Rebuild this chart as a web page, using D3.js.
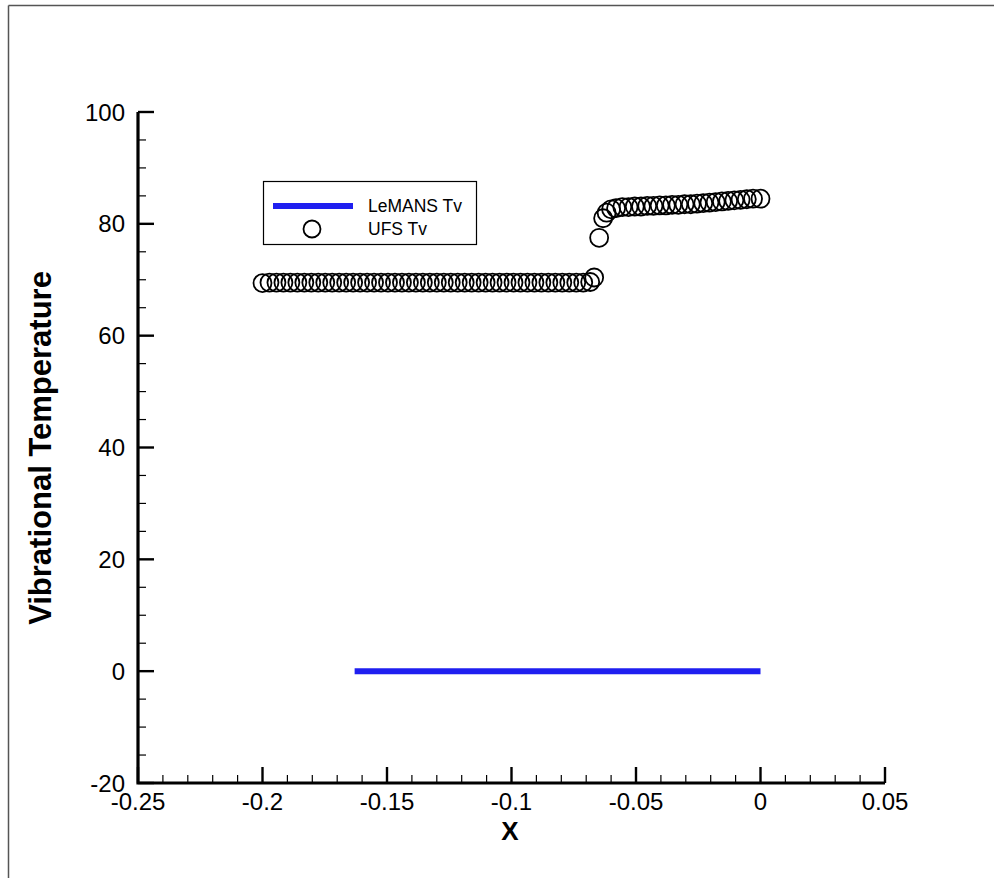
<!DOCTYPE html>
<html>
<head>
<meta charset="utf-8">
<script src="https://cdn.jsdelivr.net/npm/d3@7"></script>
<style>
  html, body { margin: 0; padding: 0; background: #fff; }
  svg { display: block; }
  text { font-family: "Liberation Sans", Arial, Helvetica, sans-serif; }
</style>
</head>
<body>
<svg id="chart" width="994" height="878"></svg>
<script>
// LeMANS vibrational temperature (solid line)
const lemansX = [-0.163, 0.0];
const lemansTv = [0, 0];

// UFS vibrational temperature (open circles)
const ufsX = [
  -0.2000, -0.1972, -0.1944, -0.1916, -0.1888, -0.1860, -0.1832, -0.1804,
  -0.1776, -0.1748, -0.1720, -0.1692, -0.1664, -0.1636, -0.1608, -0.1580,
  -0.1552, -0.1524, -0.1496, -0.1468, -0.1440, -0.1412, -0.1384, -0.1356,
  -0.1328, -0.1300, -0.1272, -0.1244, -0.1216, -0.1188, -0.1160, -0.1132,
  -0.1104, -0.1076, -0.1048, -0.1020, -0.0992, -0.0964, -0.0936, -0.0908,
  -0.0880, -0.0852, -0.0824, -0.0796, -0.0768, -0.0740, -0.0712, -0.0684,
  -0.0668, -0.0648, -0.0632, -0.0618, -0.0600, -0.0580,
  -0.0555, -0.0530, -0.0505, -0.0480, -0.0455, -0.0430, -0.0405, -0.0380,
  -0.0355, -0.0330, -0.0305, -0.0280, -0.0255, -0.0230, -0.0205, -0.0180,
  -0.0155, -0.0130, -0.0105, -0.0080, -0.0055, -0.0030, 0.0000
];
const ufsTv = [
  69.4, 69.5, 69.5, 69.5, 69.5, 69.5, 69.5, 69.5,
  69.5, 69.5, 69.5, 69.5, 69.5, 69.5, 69.5, 69.5,
  69.5, 69.5, 69.5, 69.5, 69.5, 69.5, 69.5, 69.5,
  69.5, 69.5, 69.5, 69.5, 69.5, 69.5, 69.5, 69.5,
  69.5, 69.5, 69.5, 69.5, 69.5, 69.5, 69.5, 69.5,
  69.5, 69.5, 69.5, 69.5, 69.5, 69.5, 69.5, 69.6,
  70.4, 77.5, 81.0, 82.0, 82.6, 82.8,
  83.0, 83.0, 83.1, 83.1, 83.2, 83.2, 83.3, 83.3,
  83.4, 83.4, 83.5, 83.5, 83.6, 83.7, 83.8, 83.9,
  84.0, 84.1, 84.2, 84.3, 84.4, 84.5, 84.5
];

const xTicks = [-0.25, -0.2, -0.15, -0.1, -0.05, 0, 0.05];
const xTickLabels = ["-0.25", "-0.2", "-0.15", "-0.1", "-0.05", "0", "0.05"];
const yTicks = [-20, 0, 20, 40, 60, 80, 100];
const yTickLabels = ["-20", "0", "20", "40", "60", "80", "100"];
const legendLabels = ["LeMANS Tv", "UFS Tv"];

const svg = d3.select("#chart");

// frame around the plot window
svg.append("line").attr("x1", 8.5).attr("y1", 5.5).attr("x2", 994).attr("y2", 5.5)
  .attr("stroke", "#555").attr("stroke-width", 1.5);
svg.append("line").attr("x1", 8.5).attr("y1", 5.5).attr("x2", 8.5).attr("y2", 878)
  .attr("stroke", "#555").attr("stroke-width", 1.5);

const x = d3.scaleLinear().domain([-0.25, 0.05]).range([138, 885]);
const y = d3.scaleLinear().domain([-20, 100]).range([783, 112]);

// minor ticks
const xMinor = d3.range(-0.25, 0.0501, 0.01).filter(v => Math.abs(Math.round(v * 20) - v * 20) > 1e-6);
const yMinor = d3.range(-20, 100.1, 5).filter(v => v % 20 !== 0);

const xAxisG = svg.append("g");
xAxisG.selectAll("line.minor").data(xMinor).join("line")
  .attr("x1", d => x(d)).attr("x2", d => x(d))
  .attr("y1", y(-20)).attr("y2", y(-20) - 8)
  .attr("stroke", "#000").attr("stroke-width", 1.2);
xAxisG.selectAll("line.major").data(xTicks).join("line")
  .attr("x1", d => x(d)).attr("x2", d => x(d))
  .attr("y1", y(-20)).attr("y2", y(-20) - 16)
  .attr("stroke", "#000").attr("stroke-width", 2.4);
xAxisG.selectAll("text").data(xTicks).join("text")
  .attr("x", d => x(d)).attr("y", 810)
  .attr("text-anchor", "middle").attr("font-size", 24)
  .text((d, i) => xTickLabels[i]);

const yAxisG = svg.append("g");
yAxisG.selectAll("line.minor").data(yMinor).join("line")
  .attr("x1", x(-0.25)).attr("x2", x(-0.25) + 8)
  .attr("y1", d => y(d)).attr("y2", d => y(d))
  .attr("stroke", "#000").attr("stroke-width", 1.2);
yAxisG.selectAll("line.major").data(yTicks).join("line")
  .attr("x1", x(-0.25)).attr("x2", x(-0.25) + 16)
  .attr("y1", d => y(d)).attr("y2", d => y(d))
  .attr("stroke", "#000").attr("stroke-width", 2.4);
yAxisG.selectAll("text").data(yTicks).join("text")
  .attr("x", 125).attr("y", d => y(d) + 8.5)
  .attr("text-anchor", "end").attr("font-size", 24)
  .text((d, i) => yTickLabels[i]);

// axis lines
svg.append("path")
  .attr("d", `M${x(-0.25)},${y(100)} V${y(-20)} H${x(0.05)}`)
  .attr("fill", "none").attr("stroke", "#000").attr("stroke-width", 3.2);

// axis titles
svg.append("text")
  .attr("transform", `translate(51,448) rotate(-90)`)
  .attr("text-anchor", "middle").attr("font-size", 31).attr("font-weight", "bold")
  .text("Vibrational Temperature");
svg.append("text")
  .attr("x", 510).attr("y", 840)
  .attr("text-anchor", "middle").attr("font-size", 26).attr("font-weight", "bold")
  .text("X");

// LeMANS line
const lemans = lemansX.map((v, i) => [v, lemansTv[i]]);
svg.append("path")
  .datum(lemans)
  .attr("d", d3.line().x(d => x(d[0])).y(d => y(d[1])))
  .attr("fill", "none").attr("stroke", "#1f1ff0").attr("stroke-width", 6);

// UFS circles
const ufs = ufsX.map((v, i) => [v, ufsTv[i]]);
svg.append("g").selectAll("circle").data(ufs).join("circle")
  .attr("cx", d => x(d[0])).attr("cy", d => y(d[1]))
  .attr("r", 9)
  .attr("fill", "none").attr("stroke", "#000").attr("stroke-width", 1.8);

// legend
const lg = svg.append("g");
lg.append("rect").attr("x", 263.5).attr("y", 181.5).attr("width", 213).attr("height", 63)
  .attr("fill", "#fff").attr("stroke", "#000").attr("stroke-width", 1.2);
lg.append("line").attr("x1", 273).attr("x2", 353).attr("y1", 206).attr("y2", 206)
  .attr("stroke", "#1f1ff0").attr("stroke-width", 6);
lg.append("circle").attr("cx", 312).attr("cy", 229).attr("r", 8.5)
  .attr("fill", "none").attr("stroke", "#000").attr("stroke-width", 1.8);
lg.selectAll("text").data(legendLabels).join("text")
  .attr("x", 368).attr("y", (d, i) => 212 + i * 23)
  .attr("font-size", 17.5)
  .text(d => d);
</script>
</body>
</html>
